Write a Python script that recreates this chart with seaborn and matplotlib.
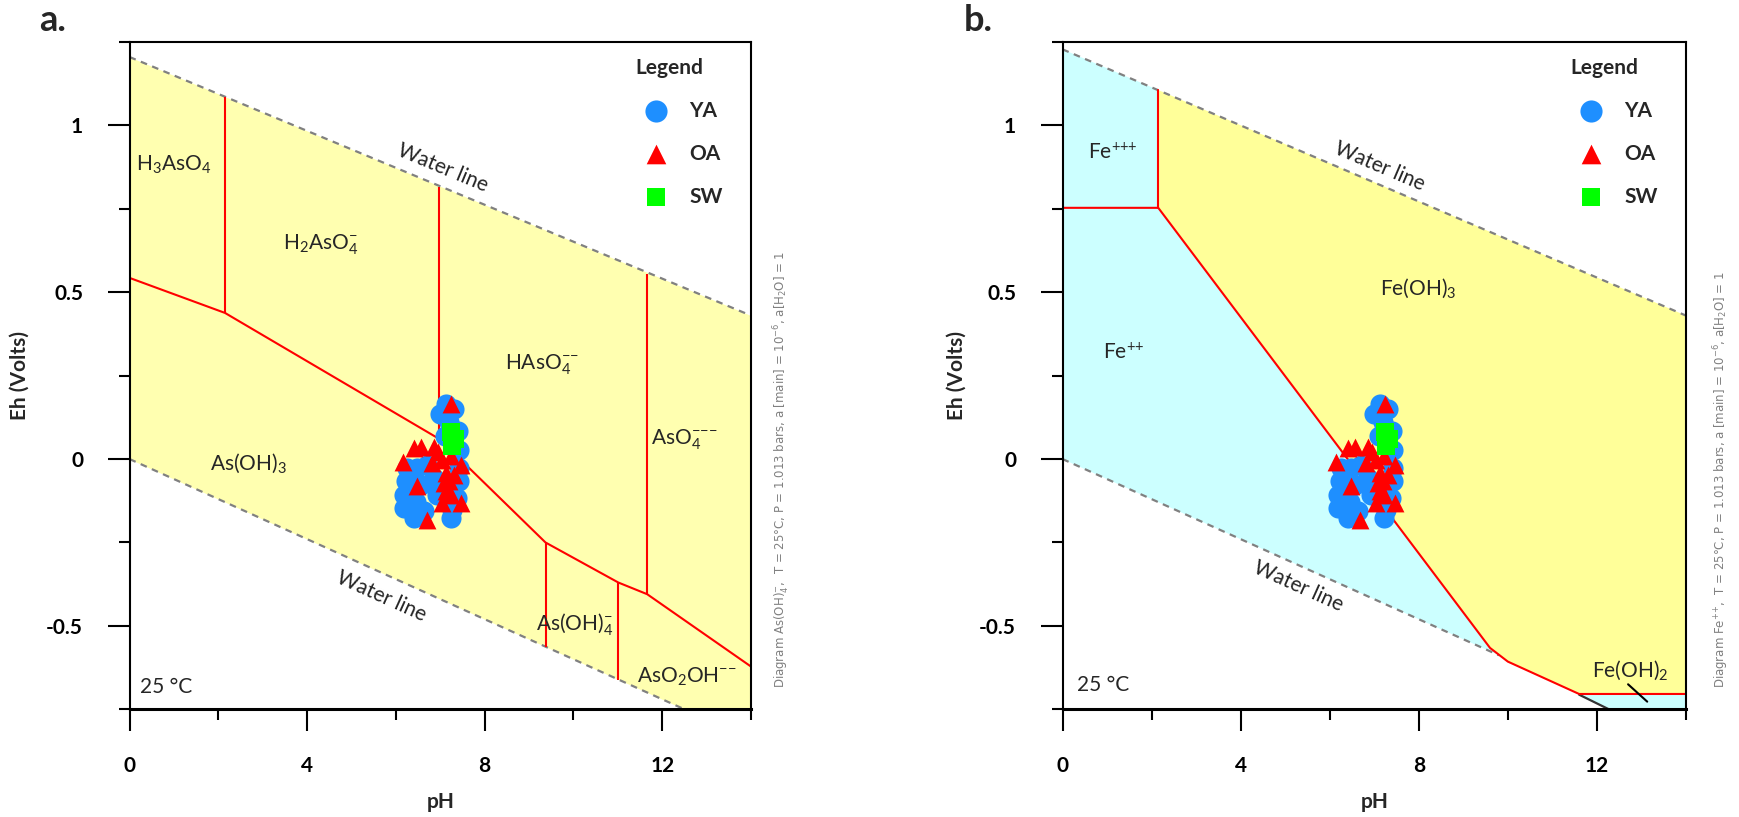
import matplotlib
matplotlib.use('Agg')
import matplotlib.pyplot as plt
import numpy as np
import pandas as pd
import seaborn as sns

# samples (same set on both diagrams)
ya_ph = [7.12, 7.0, 7.3, 7.2, 7.4, 7.42, 7.1, 6.26, 6.22, 6.18, 6.18, 6.41, 6.63, 6.56,
         6.48, 6.71, 7.23, 7.27, 7.38, 7.42, 7.42, 6.93, 6.86, 6.35, 6.45]
ya_eh = [0.166, 0.135, 0.15, 0.11, 0.083, 0.028, 0.07, -0.027, -0.067, -0.107, -0.147, -0.177, -0.157, -0.077,
         -0.027, -0.017, -0.177, -0.152, -0.117, -0.067, -0.027, -0.107, -0.057, -0.12, -0.13]
oa_ph = [7.25, 6.41, 6.57, 6.86, 6.15, 6.48, 6.69, 7.47, 7.04, 7.46, 6.82, 7.04, 7.23, 7.12,
         7.19, 7.12, 7.23, 7.08, 7.31, 6.95]
oa_eh = [0.165, 0.033, 0.035, 0.035, -0.009, -0.082, -0.182, -0.132, -0.132, -0.017, -0.012, -0.002, 0.008, -0.042,
         -0.067, -0.097, -0.107, -0.072, -0.047, 0.02]
sw_ph = [7.25, 7.33, 7.26]
sw_eh = [0.08, 0.06, 0.04]

ph_ticks = [0, 4, 8, 12]
ph_minor = [2, 6, 10, 14]
eh_ticks = [-0.5, 0, 0.5, 1]
eh_tick_labels = ['-0.5', '0', '0.5', '1']
eh_minor = [-0.75, -0.25, 0.25, 0.75, 1.25]

# water stability limits
water_ph = [0, 14]
water_top_a = [1.205, 0.43]
water_top_b = [1.228, 0.43]
water_bot = [0, -0.84]

# As diagram boundaries
as_main_ph = [0, 2.15, 6.98, 9.37, 11.01, 11.66, 14]
as_main_eh = [0.543, 0.438, 0.06, -0.25, -0.37, -0.405, -0.622]
as_vert_ph = [2.15, 6.98, 11.66, 9.37, 11.01]
as_vert_lo = [0.438, 0.06, -0.405, -0.562, -0.661]
as_vert_hi = [1.085, 0.816, 0.556, -0.25, -0.37]

# Fe diagram boundaries
fe_main_ph = [0, 2.15, 9.6, 10.0, 11.6, 14]
fe_main_eh = [0.753, 0.753, -0.566, -0.607, -0.704, -0.704]
fe_vert_ph = 2.15
fe_vert_eh = [0.753, 1.106]
fe_low_water_ph = [0, 9.8]
fe_low_water_eh = [0, -0.588]
fe_dark_ph = [11.6, 12.27]
fe_dark_eh = [-0.706, -0.75]

YELLOW_A = '#FFFFB0'
YELLOW_B = '#FFFF99'
CYAN = '#CCFFFF'
RED = '#FF0000'
FS = 15

sns.set_theme(style='ticks')
plt.rcParams['font.family'] = ['Lato', 'DejaVu Sans']
plt.rcParams['mathtext.default'] = 'regular'

df = pd.concat([
    pd.DataFrame({'pH': ya_ph, 'Eh': ya_eh, 'group': 'YA'}),
    pd.DataFrame({'pH': oa_ph, 'Eh': oa_eh, 'group': 'OA'}),
    pd.DataFrame({'pH': sw_ph, 'Eh': sw_eh, 'group': 'SW'}),
])
marker_style = {'YA': ('o', '#1E8FFF', 210), 'OA': ('^', RED, 165), 'SW': ('s', '#00FF00', 150)}


def style_axes(ax):
    ax.set_xlim(0, 14)
    ax.set_ylim(-0.75, 1.25)
    ax.set_xticks(ph_ticks)
    ax.set_xticks(ph_minor, minor=True)
    ax.set_yticks(eh_ticks)
    ax.set_yticklabels(eh_tick_labels)
    ax.set_yticks(eh_minor, minor=True)
    ax.tick_params(which='major', direction='out', length=15.5, width=1.5, pad=18,
                   labelsize=FS, color='black', labelcolor='black')
    ax.tick_params(which='minor', direction='out', length=8, width=1.5, color='black')
    plt.setp(ax.get_xticklabels() + ax.get_yticklabels(), fontweight='bold')
    for sp in ax.spines.values():
        sp.set_linewidth(1.5)
        sp.set_color('black')
        sp.set_zorder(5)
    ax.spines['bottom'].set_linewidth(2.2)
    ax.set_facecolor('white')
    ax.grid(False)
    ax.set_xlabel('pH', fontsize=FS, fontweight='bold', va='center')
    ax.set_ylabel('Eh (Volts)', fontsize=FS, fontweight='bold', va='center')
    ax.xaxis.set_label_coords(0.5, -0.1385)


def water_label(ax, ph, eh, slope):
    ax.text(ph, eh, 'Water line', rotation=np.degrees(np.arctan(slope)),
            transform_rotates_text=True, rotation_mode='anchor',
            ha='center', va='center', fontsize=FS, zorder=4)


def draw_samples(ax):
    for grp, (mk, col, size) in marker_style.items():
        sns.scatterplot(data=df[df['group'] == grp], x='pH', y='Eh', marker=mk, color=col,
                        s=size, linewidth=0, ax=ax, label=grp, zorder=6)
    leg = ax.legend(title='Legend', loc='upper right', bbox_to_anchor=(0.975, 0.995),
                    frameon=False, labelspacing=1.1, handletextpad=0.6, markerscale=1.1,
                    fontsize=FS, alignment='left', borderaxespad=0.2)
    leg.get_title().set_fontweight('bold')
    leg.get_title().set_fontsize(FS)
    for t in leg.get_texts():
        t.set_fontweight('bold')
    leg.set_zorder(7)


fig = plt.figure(figsize=(17.39, 8.17), dpi=100)
ax_a = fig.add_axes([0.0745, 0.1318, 0.3574, 0.8168])
ax_b = fig.add_axes([0.611, 0.1318, 0.3585, 0.8168])

# ---------- a. As ----------
ax = ax_a
ax.fill_between(water_ph, water_bot, water_top_a, color=YELLOW_A, linewidth=0, zorder=1)
ax.plot(water_ph, water_top_a, color='gray', lw=1.6, ls=(0, (3, 2.5)), zorder=3)
ax.plot(water_ph, water_bot, color='gray', lw=1.6, ls=(0, (3, 2.5)), zorder=3)
ax.plot(as_main_ph, as_main_eh, color=RED, lw=1.5, zorder=3)
ax.vlines(as_vert_ph, as_vert_lo, as_vert_hi, color=RED, lw=1.5, zorder=3)
for txt, x, y in [('H$_3$AsO$_4$', 0.99, 0.883), ('H$_2$AsO$_4^{-}$', 4.31, 0.643),
                  ('HAsO$_4^{{-}{-}}$', 9.29, 0.283), ('As(OH)$_3$', 2.68, -0.012),
                  ('AsO$_4^{{-}{-}{-}}$', 12.5, 0.058), ('As(OH)$_4^{-}$', 10.03, -0.497),
                  ('AsO$_2$OH$^{{-}{-}}$', 12.55, -0.652)]:
    ax.text(x, y, txt, ha='center', va='center', fontsize=FS, zorder=4)
water_label(ax, 7.06, 0.873, (water_top_a[1] - water_top_a[0]) / 14)
water_label(ax, 5.68, -0.412, (water_bot[1] - water_bot[0]) / 14)
ax.text(0.24, -0.682, '25 °C', ha='left', va='center', fontsize=FS, zorder=4)
draw_samples(ax)
style_axes(ax)
ax.yaxis.set_label_coords(-0.1766, 0.5)

# ---------- b. Fe ----------
ax = ax_b
fe3_x = [0, 2.15, 2.15, 0]
fe3_y = [0.753, 0.753, 1.106, 1.228]
fe2_x = [0, 0, 2.15, 9.6, 9.8]
fe2_y = [0, 0.753, 0.753, -0.566, -0.588]
feoh3_x = [2.15, 2.15, 14, 14, 11.6, 10.0, 9.6]
feoh3_y = [0.753, 1.106, 0.43, -0.704, -0.704, -0.607, -0.566]
feoh2_x = [11.6, 14, 14, 12.27]
feoh2_y = [-0.704, -0.704, -0.75, -0.75]
ax.fill(fe3_x, fe3_y, color=CYAN, lw=0, zorder=1)
ax.fill(fe2_x, fe2_y, color=CYAN, lw=0, zorder=1)
ax.fill(feoh3_x, feoh3_y, color=YELLOW_B, lw=0, zorder=1)
ax.fill(feoh2_x, feoh2_y, color=CYAN, lw=0, zorder=1)
ax.plot(water_ph, water_top_b, color='gray', lw=1.6, ls=(0, (3, 2.5)), zorder=3)
ax.plot(fe_low_water_ph, fe_low_water_eh, color='gray', lw=1.6, ls=(0, (3, 2.5)), zorder=3)
ax.plot(fe_dark_ph, fe_dark_eh, color='#333333', lw=1.6, zorder=3)
ax.plot(fe_main_ph, fe_main_eh, color=RED, lw=1.5, zorder=3)
ax.plot([fe_vert_ph, fe_vert_ph], fe_vert_eh, color=RED, lw=1.5, zorder=3)
for txt, x, y in [('Fe$^{{+}{+}{+}}$', 1.12, 0.918), ('Fe$^{{+}{+}}$', 1.37, 0.318),
                  ('Fe(OH)$_3$', 7.99, 0.513), ('Fe(OH)$_2$', 12.74, -0.632)]:
    ax.text(x, y, txt, ha='center', va='center', fontsize=FS, zorder=4)
ax.plot([12.7, 13.13], [-0.675, -0.727], color='black', lw=1.5, zorder=4)
water_label(ax, 7.11, 0.878, (water_top_b[1] - water_top_b[0]) / 14)
water_label(ax, 5.3, -0.382, -0.06)
ax.text(0.33, -0.677, '25 °C', ha='left', va='center', fontsize=FS, zorder=4)
draw_samples(ax)
style_axes(ax)
ax.yaxis.set_label_coords(-0.170, 0.5)

# panel letters and side notes
fig.text(0.030, 0.9755, 'a.', fontsize=26, fontweight='bold', ha='center', va='center')
fig.text(0.5627, 0.9755, 'b.', fontsize=26, fontweight='bold', ha='center', va='center')
side_kw = dict(rotation=90, ha='center', va='bottom', fontsize=8.5, color='#808080',
               family=['DejaVu Sans'])
fig.text(0.4497, 0.158, 'Diagram As(OH)$_4^{-}$,  T = 25°C, P = 1.013 bars, a [main] = 10$^{-6}$, a[H$_2$O] = 1',
         **side_kw)
fig.text(0.9900, 0.158, 'Diagram Fe$^{{+}{+}}$,  T = 25°C, P = 1.013 bars, a [main] = 10$^{-6}$, a[H$_2$O] = 1',
         **side_kw)

fig.savefig('out.png', dpi=100)
